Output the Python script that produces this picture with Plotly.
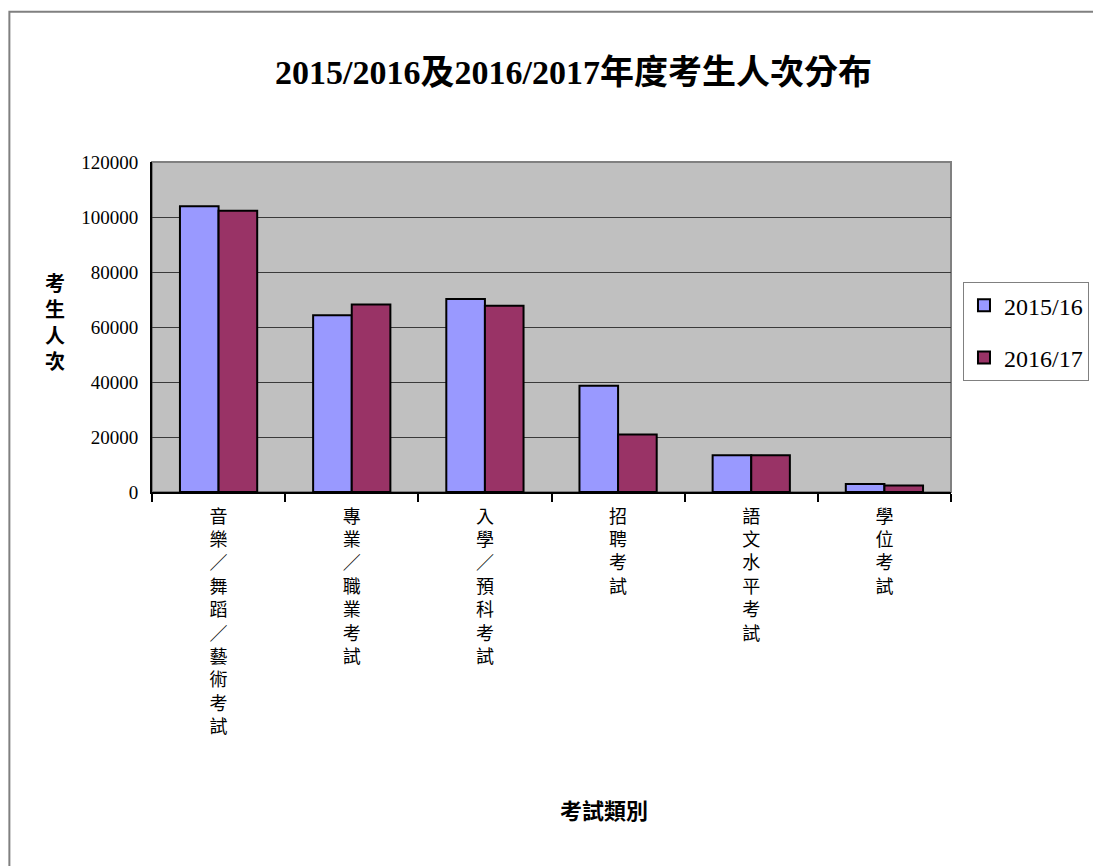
import plotly.graph_objects as go

categories = ["音樂／舞蹈／藝術考試", "專業／職業考試", "入學／預科考試", "招聘考試", "語文水平考試", "學位考試"]
series_names = ["2015/16", "2016/17"]
values_2015 = [103900, 64300, 70200, 38600, 13400, 2900]
values_2016 = [102300, 68200, 67700, 20900, 13400, 2400]
y_ticks = [0, 20000, 40000, 60000, 80000, 100000, 120000]

title_text = "2015/2016及2016/2017年度考生人次分布"
y_title = "考生人次"
x_title = "考試類別"

FONT = "Liberation Serif, Noto Sans CJK TC, serif"

ticktext = ["<br>".join(list(c)) for c in categories]

fig = go.Figure()
fig.add_trace(go.Bar(
    x=categories, y=values_2015, name=series_names[0], legendgroup="a",
    marker=dict(color="#9999FF", line=dict(color="black", width=2)),
))
fig.add_trace(go.Bar(
    x=categories, y=values_2016, name=series_names[1], legendgroup="b",
    marker=dict(color="#993366", line=dict(color="black", width=2)),
))

fig.update_layout(
    width=1093, height=858,
    margin=dict(l=144, r=148, t=154, b=374),
    paper_bgcolor="white", plot_bgcolor="#C0C0C0",
    font=dict(family=FONT, color="black"),
    barmode="group", bargap=0.42, bargroupgap=0,
    showlegend=True,
    legend=dict(
        x=1.015, y=0.636, xanchor="left", yanchor="top",
        font=dict(family=FONT, size=24, color="black"),
        bordercolor="#808080", borderwidth=1, bgcolor="white",
        traceorder="grouped", tracegroupgap=18,
        itemwidth=30,
    ),
    xaxis=dict(
        tickmode="array", tickvals=categories, ticktext=ticktext,
        tickson="boundaries", ticks="outside", ticklen=8, tickwidth=2, tickcolor="black",
        showline=True, linecolor="black", linewidth=2,
        showgrid=False, tickangle=0, ticklabelstandoff=7,
        tickfont=dict(family="Noto Sans CJK TC, Liberation Serif", size=18, color="black"),
    ),
    yaxis=dict(
        range=[0, 120000], tickvals=y_ticks, ticktext=[str(v) for v in y_ticks],
        showline=True, linecolor="black", linewidth=2,
        showgrid=True, gridcolor="#3a3a3a", gridwidth=1,
        ticks="", ticklabelstandoff=8,
        tickfont=dict(family=FONT, size=19, color="black"),
        zeroline=False,
    ),
    shapes=[
        dict(type="rect", xref="paper", yref="paper", x0=0, x1=1, y0=0, y1=1,
             line=dict(color="#808080", width=2), layer="below"),
        dict(type="rect", xref="paper", yref="paper", x0=-0.1785, x1=1.3, y0=-1.3, y1=1.455,
             line=dict(color="#808080", width=2), layer="below"),
    ],
    annotations=[
        dict(text="<b>" + title_text + "</b>", xref="paper", yref="paper",
             x=0.528, y=1.27, xanchor="center", yanchor="middle", showarrow=False,
             font=dict(family=FONT, size=34, color="black")),
        dict(text="<b>" + "<br>".join(list(y_title)) + "</b>", xref="paper", yref="paper",
             x=-0.121, y=0.518, xanchor="center", yanchor="middle", showarrow=False,
             font=dict(family="Noto Sans CJK TC", size=20, color="black")),
        dict(text="<b>" + x_title + "</b>", xref="paper", yref="paper",
             x=0.5655, y=-0.962, xanchor="center", yanchor="middle", showarrow=False,
             font=dict(family="Noto Sans CJK TC", size=22, color="black")),
    ],
)

fig.write_html("out.html")
